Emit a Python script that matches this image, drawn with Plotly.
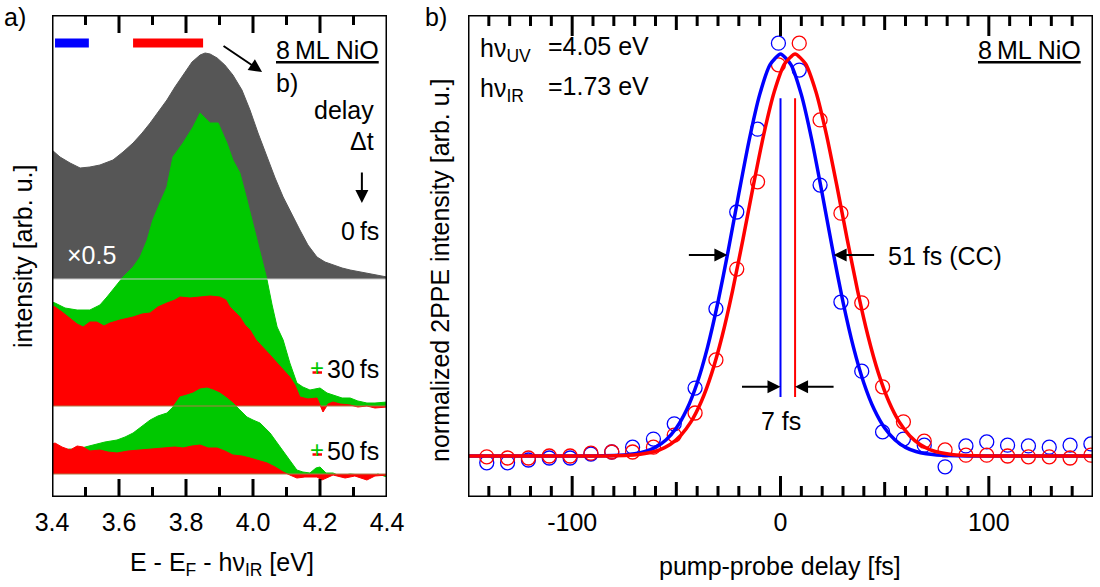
import plotly.graph_objects as go

# ---------------- data: panel a (spectra, arb. u.) ----------------
offset_0fs = 218
offset_30fs = 91
offset_50fs = 23

E_gray = [3.400, 3.424, 3.454, 3.484, 3.513, 3.543, 3.582, 3.612, 3.642, 3.669,
          3.693, 3.716, 3.743, 3.767, 3.791, 3.818, 3.842, 3.857, 3.872, 3.893,
          3.916, 3.940, 3.967, 3.991, 4.015, 4.042, 4.066, 4.090, 4.116, 4.140,
          4.164, 4.191, 4.215, 4.239, 4.266, 4.290, 4.340, 4.400]
I_gray = [129, 122, 116, 111, 112, 114, 119, 127, 136, 146,
          156, 167, 179, 192, 204, 217, 224, 226, 225, 221,
          214, 204, 189, 169, 146, 122, 101, 82, 64, 49,
          34, 22, 17, 14, 11, 9, 6, 2]

E_g30 = [3.400, 3.409, 3.439, 3.475, 3.513, 3.543, 3.564, 3.588, 3.612, 3.642,
         3.663, 3.684, 3.701, 3.722, 3.743, 3.761, 3.791, 3.821, 3.842, 3.857,
         3.872, 3.896, 3.922, 3.940, 3.961, 3.982, 4.012, 4.027, 4.042, 4.057,
         4.072, 4.090, 4.110, 4.131, 4.149, 4.170, 4.200, 4.221, 4.239, 4.266,
         4.290, 4.313, 4.340, 4.364, 4.400]
I_g30 = [104, 103, 98, 96, 96, 101, 109, 119, 129, 139,
         149, 166, 186, 203, 219, 249, 263, 279, 293, 288,
         283, 283, 263, 246, 233, 206, 166, 148, 126, 101,
         79, 66, 43, 23, 19, 16, 18, 13, 11, 8,
         8, 5, 3, 3, 4]

E_r30 = [3.400, 3.409, 3.430, 3.454, 3.475, 3.493, 3.513, 3.534, 3.555, 3.573,
         3.603, 3.642, 3.669, 3.693, 3.716, 3.743, 3.767, 3.782, 3.812, 3.842,
         3.872, 3.901, 3.919, 3.931, 3.946, 3.961, 3.976, 3.991, 4.009, 4.030,
         4.051, 4.072, 4.090, 4.110, 4.125, 4.140, 4.164, 4.191, 4.209, 4.224,
         4.239, 4.260, 4.290, 4.313, 4.340, 4.364, 4.400]
I_r30 = [100, 99, 94, 88, 82, 79, 84, 84, 80, 83,
         86, 89, 92, 93, 99, 103, 106, 109, 108, 109,
         110, 109, 106, 99, 94, 89, 81, 76, 66, 59,
         51, 43, 36, 29, 21, 9, 7, 8, -6, 2,
         4, 2, 1, -1, 0, -2, -1]

E_g50 = [3.400, 3.409, 3.430, 3.454, 3.475, 3.499, 3.522, 3.558, 3.594, 3.618,
         3.642, 3.669, 3.693, 3.716, 3.743, 3.761, 3.782, 3.803, 3.821, 3.842,
         3.863, 3.881, 3.901, 3.922, 3.940, 3.961, 3.982, 4.000, 4.021, 4.036,
         4.051, 4.066, 4.081, 4.096, 4.110, 4.131, 4.149, 4.170, 4.188, 4.200,
         4.218, 4.239, 4.260, 4.290, 4.319, 4.349, 4.373, 4.400]
I_g50 = [28, 27, 24, 25, 24, 27, 29, 32, 34, 37,
         41, 48, 54, 58, 61, 67, 77, 79, 81, 85,
         86, 84, 81, 76, 71, 64, 57, 54, 51, 46,
         41, 34, 27, 20, 14, 4, 2, 1, 6, 7,
         1, 1, -2, 0, -1, -3, 0, -3]

E_r50 = [3.400, 3.409, 3.430, 3.454, 3.475, 3.493, 3.513, 3.543, 3.567, 3.594,
         3.627, 3.663, 3.693, 3.722, 3.743, 3.767, 3.791, 3.818, 3.842, 3.866,
         3.893, 3.916, 3.940, 3.967, 3.991, 4.015, 4.042, 4.066, 4.090, 4.110,
         4.131, 4.155, 4.191, 4.206, 4.239, 4.275, 4.304, 4.340, 4.364, 4.400]
I_r50 = [30, 31, 27, 24, 28, 27, 23, 24, 22, 21,
         23, 24, 25, 26, 26, 27, 26, 28, 29, 26,
         26, 23, 19, 18, 16, 14, 11, 7, 2, -1,
         -4, -3, -3, -6, -1, -4, -2, -6, -2, -1]

# energy windows marked on top (blue / red bars)
win_blue = [3.409, 3.510]
win_red = [3.642, 3.851]

a_xrange = [3.4, 4.4]
a_yrange = [0, 482]
a_xticks = [3.4, 3.6, 3.8, 4.0, 4.2, 4.4]
a_xticklabels = ["3.4", "3.6", "3.8", "4.0", "4.2", "4.4"]
a_minorticks = [3.5, 3.7, 3.9, 4.1, 4.3]

# ---------------- data: panel b (cross correlation) ----------------
delays = [-141, -131, -121, -111, -101, -91, -81, -71, -61, -51,
          -41, -31, -21, -11, -1, 9, 19, 29, 39, 49,
          59, 69, 79, 89, 99, 109, 119, 129, 139, 149]
blue_data = [-0.017, -0.017, -0.010, -0.005, -0.005, 0.005, 0.010, 0.022, 0.042, 0.080,
             0.169, 0.366, 0.607, 0.813, 1.027, 0.960, 0.674, 0.383, 0.211, 0.060,
             0.042, 0.027, -0.027, 0.025, 0.035, 0.027, 0.025, 0.022, 0.027, 0.030]
red_data = [-0.002, -0.005, -0.005, 0.000, 0.000, 0.007, 0.010, 0.010, 0.022, 0.052,
            0.107, 0.239, 0.465, 0.682, 0.973, 1.027, 0.836, 0.604, 0.381, 0.172,
            0.085, 0.037, 0.015, 0.002, 0.002, 0.000, -0.002, -0.002, -0.005, 0.002]

fit_t_blue = [-150, -100, -90, -80, -75, -70, -65, -60, -55, -50,
              -45, -40, -35, -30, -25, -20, -15, -10, -5, 0,
              5, 10, 15, 20, 25, 30, 35, 40, 45, 50, 55, 60, 65, 70, 75, 80,
              90, 100, 150]
fit_blue = [0, 0, 0.0002, 0.0011, 0.0025, 0.0054, 0.0111, 0.0215, 0.0398, 0.0696,
            0.1155, 0.1817, 0.2709, 0.3831, 0.5136, 0.6529, 0.7867, 0.8989, 0.9737, 1.0,
            0.9737, 0.8989, 0.7867, 0.6529, 0.5136, 0.3831, 0.2709, 0.1817, 0.1155, 0.0696,
            0.0398, 0.0215, 0.0111, 0.0054, 0.0025, 0.0011,
            0.0002, 0, 0]
fit_t_red = [-150, -93, -83, -73, -68, -63, -58, -53, -48, -43,
             -38, -33, -28, -23, -18, -13, -8, -3, 2, 7,
             12, 17, 22, 27, 32, 37, 42, 47, 52, 57, 62, 67, 72, 77, 82, 87,
             97, 107, 150]
fit_red = [0, 0, 0.0003, 0.0018, 0.0039, 0.0079, 0.0155, 0.0286, 0.0505, 0.0848,
           0.1355, 0.2061, 0.2985, 0.4114, 0.5396, 0.6738, 0.8008, 0.9060, 0.9756, 1.0,
           0.9756, 0.9060, 0.8008, 0.6738, 0.5396, 0.4114, 0.2985, 0.2061, 0.1355, 0.0848,
           0.0505, 0.0286, 0.0155, 0.0079, 0.0039, 0.0018,
           0.0003, 0, 0]
centers = [0, 7]          # fit centres (blue, red)
fwhm_cc = 51
center_line_span = [0.147, 0.890]

b_xrange = [-150, 150]
b_yrange = [-0.102, 1.097]
b_xticks = [-100, 0, 100]
b_xticklabels = ["-100", "0", "100"]
b_midticks = [-50, 50]
b_minorticks = [-140, -130, -120, -110, -90, -80, -70, -60, -40, -30, -20, -10,
                10, 20, 30, 40, 60, 70, 80, 90, 110, 120, 130, 140]

# ---------------- style ----------------
GRAY = "#565656"
GREEN = "#00c800"
RED = "#ff0000"
BLUE = "#0000ff"
FONT = "Liberation Sans, Arial, sans-serif"
FS = 25

W, H = 1100, 587
TOP, BOT = 15, 497
PLOT_H = BOT - TOP


def PX(x):
    return x / W


def PY(y):
    return (BOT - y) / (BOT - TOP)


fig = go.Figure()


def add_filled(E, I, off, color, xa="x", ya="y"):
    fig.add_trace(go.Scatter(x=a_xrange, y=[off, off], mode="lines",
                             line=dict(width=0, color=color), hoverinfo="skip",
                             showlegend=False, xaxis=xa, yaxis=ya))
    fig.add_trace(go.Scatter(x=E, y=[off + v for v in I], mode="lines",
                             line=dict(width=1, color=color), fill="tonexty",
                             fillcolor=color, showlegend=False, xaxis=xa, yaxis=ya))


add_filled(E_gray, I_gray, offset_0fs, GRAY)
add_filled(E_g30, I_g30, offset_30fs, GREEN)
add_filled(E_r30, I_r30, offset_30fs, RED)
add_filled(E_g50, I_g50, offset_50fs, GREEN)
add_filled(E_r50, I_r50, offset_50fs, RED)

# thin baseline lines
fig.add_trace(go.Scatter(x=a_xrange, y=[offset_0fs, offset_0fs], mode="lines",
                         line=dict(width=1, color="#c8c8c8"), showlegend=False))
for off in (offset_30fs, offset_50fs):
    fig.add_trace(go.Scatter(x=a_xrange, y=[off, off], mode="lines",
                             line=dict(width=1, color="#b07848"), showlegend=False))

# energy windows
fig.add_trace(go.Scatter(x=win_blue, y=[454, 454], mode="lines",
                         line=dict(width=9, color=BLUE), showlegend=False))
fig.add_trace(go.Scatter(x=win_red, y=[454, 454], mode="lines",
                         line=dict(width=9, color=RED), showlegend=False))

# ---- panel b ----
fig.add_trace(go.Scatter(x=delays, y=blue_data, mode="markers", xaxis="x2", yaxis="y2",
                         marker=dict(symbol="circle-open", size=14, color=BLUE,
                                     line=dict(width=1.3, color=BLUE)), showlegend=False))
fig.add_trace(go.Scatter(x=delays, y=red_data, mode="markers", xaxis="x2", yaxis="y2",
                         marker=dict(symbol="circle-open", size=14, color=RED,
                                     line=dict(width=1.3, color=RED)), showlegend=False))
fig.add_trace(go.Scatter(x=fit_t_blue, y=fit_blue, mode="lines", xaxis="x2", yaxis="y2",
                         line=dict(width=3.5, color=BLUE, shape="spline", smoothing=0.6),
                         showlegend=False))
fig.add_trace(go.Scatter(x=fit_t_red, y=fit_red, mode="lines", xaxis="x2", yaxis="y2",
                         line=dict(width=3.5, color=RED, shape="spline", smoothing=0.6),
                         showlegend=False))
for c, col in zip(centers, (BLUE, RED)):
    fig.add_trace(go.Scatter(x=[c, c], y=center_line_span, mode="lines", xaxis="x2",
                             yaxis="y2", line=dict(width=2, color=col), showlegend=False))


# ---- frames and inside ticks (drawn as traces on each subplot's own scales) ----
def add_frame(xr, yr, xa, ya):
    fig.add_trace(go.Scatter(x=[xr[0], xr[1], xr[1], xr[0], xr[0]],
                             y=[yr[0], yr[0], yr[1], yr[1], yr[0]], mode="lines",
                             line=dict(color="black", width=3), cliponaxis=False,
                             hoverinfo="skip", showlegend=False, xaxis=xa, yaxis=ya))


def add_ticks(values, yr, length_px, xa, ya):
    d = (yr[1] - yr[0]) * length_px / PLOT_H
    xs, ys = [], []
    for v in values:
        xs += [v, v, None, v, v, None]
        ys += [yr[0], yr[0] + d, None, yr[1] - d, yr[1], None]
    fig.add_trace(go.Scatter(x=xs, y=ys, mode="lines", line=dict(color="black", width=3),
                             cliponaxis=False, hoverinfo="skip", showlegend=False,
                             xaxis=xa, yaxis=ya))


add_ticks(a_xticks[1:-1], a_yrange, 18, "x", "y")
add_ticks(a_minorticks, a_yrange, 10, "x", "y")
add_frame(a_xrange, a_yrange, "x", "y")
add_ticks(b_xticks, b_yrange, 21, "x2", "y2")
add_ticks(b_midticks, b_yrange, 15, "x2", "y2")
add_ticks(b_minorticks, b_yrange, 11, "x2", "y2")
add_frame(b_xrange, b_yrange, "x2", "y2")

ax_common = dict(showgrid=False, zeroline=False, showline=False, ticks="",
                 tickfont=dict(family=FONT, size=FS, color="black"))

fig.update_layout(
    width=W, height=H,
    margin=dict(l=0, r=0, t=TOP, b=H - BOT, autoexpand=False),
    paper_bgcolor="white", plot_bgcolor="white",
    showlegend=False,
    xaxis=dict(domain=[PX(52), PX(387)], range=a_xrange, anchor="y",
               tickmode="array", tickvals=a_xticks, ticktext=a_xticklabels,
               ticklabelstandoff=8, **ax_common),
    yaxis=dict(domain=[0, 1], range=a_yrange, anchor="x", showticklabels=False,
               **ax_common),
    xaxis2=dict(domain=[PX(468), PX(1093)], range=b_xrange, anchor="y2",
                tickmode="array", tickvals=b_xticks, ticktext=b_xticklabels,
                ticklabelstandoff=8, **ax_common),
    yaxis2=dict(domain=[0, 1], range=b_yrange, anchor="x2", showticklabels=False,
                **ax_common),
)

ann = []


def txt(x, y, s, xanchor="center", yanchor="middle", color="black", size=FS, angle=0):
    ann.append(dict(x=PX(x), y=PY(y), xref="paper", yref="paper", text=s,
                    showarrow=False, xanchor=xanchor, yanchor=yanchor, textangle=angle,
                    font=dict(family=FONT, size=size, color=color)))


# panel labels
txt(15, 17, "a)")
txt(436, 17, "b)")

# panel a texts
txt(381, 50, "<u>8\u2009ML NiO</u>", xanchor="right")
txt(287, 83, "b)")
txt(376, 110, "delay", xanchor="right")
txt(376, 141, "\u0394t", xanchor="right")
txt(381, 231, "0\u2009fs", xanchor="right")
txt(91, 255, "\u00d70.5", color="white")
txt(381, 369, "30\u2009fs", xanchor="right")
txt(381, 451, "50\u2009fs", xanchor="right")
txt(317, 367, "+", color=GREEN, size=24)
txt(317, 449, "+", color=GREEN, size=24)
txt(222, 564, "E - E<sub>F</sub> - h\u03bd<sub>IR</sub> [eV]")
txt(23, 257, "intensity [arb. u.]", angle=-90)

# panel b texts
txt(478, 50, "h\u03bd<sub>UV</sub>", xanchor="left")
txt(478, 90, "h\u03bd<sub>IR</sub>", xanchor="left")
txt(546, 46, "=4.05 eV", xanchor="left")
txt(546, 86, "=1.73 eV", xanchor="left")
txt(1083, 50, "<u>8\u2009ML NiO</u>", xanchor="right")
txt(886, 256, "51 fs (CC)", xanchor="left")
txt(781, 421, "7 fs")
txt(780, 566, "pump-probe delay [fs]")
txt(440, 270, "normalized 2PPE intensity [arb. u.]", angle=-90)


def arrow(x, y, ax, ay, xref, yref):
    ann.append(dict(x=x, y=y, xref=xref, yref=yref, ax=ax, ay=ay, axref="pixel",
                    ayref="pixel", text="", showarrow=True, arrowhead=2, arrowsize=1.3,
                    arrowwidth=2, arrowcolor="black"))


arrow(4.027, 425, -40, -27, "x", "y")          # to panel b
arrow(4.325, 294, 0, -32, "x", "y")            # delay direction
arrow(-fwhm_cc / 2, 0.5, -40, 0, "x2", "y2")
arrow(fwhm_cc / 2, 0.5, 42, 0, "x2", "y2")
arrow(centers[0], 0.172, -40, 0, "x2", "y2")
arrow(centers[1], 0.172, 40, 0, "x2", "y2")

fig.update_layout(annotations=ann)

shapes = []
# red minus of the ± signs
for yv in (372.5, 454.5):
    shapes.append(dict(type="line", xref="paper", yref="paper", x0=PX(312.5), x1=PX(322),
                       y0=PY(yv), y1=PY(yv), line=dict(color=RED, width=2.5)))
fig.update_layout(shapes=shapes)

fig.write_html("out.html")
